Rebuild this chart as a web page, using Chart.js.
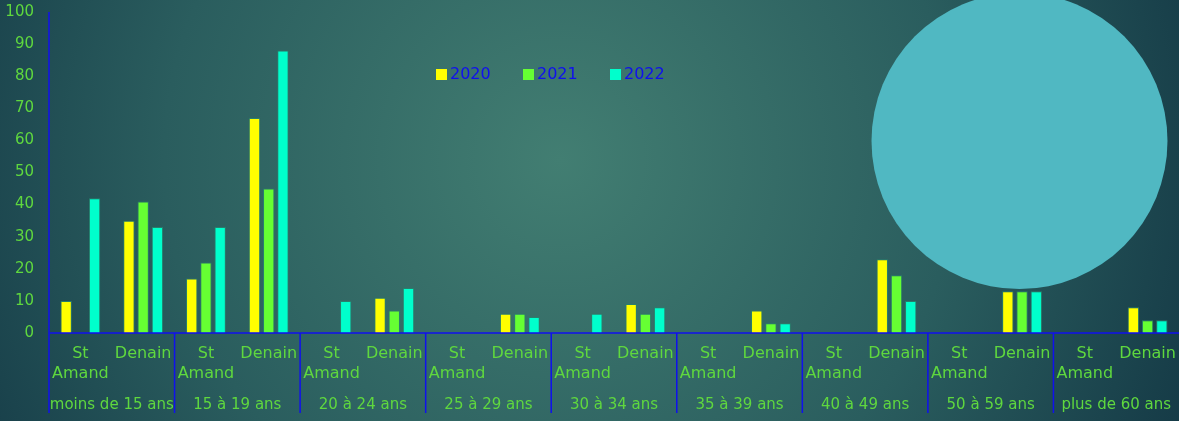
<!DOCTYPE html>
<html>
<head>
<meta charset="utf-8">
<style>
html, body { margin: 0; padding: 0; background: #1a4450; }
#wrap { width: 1179px; height: 421px; position: relative; }
</style>
</head>
<body>
<div id="wrap"><canvas id="ageChart"></canvas></div>
<script src="https://cdn.jsdelivr.net/npm/chart.js"></script>
<script>
// age groups, each split into two towns
const groups = ['moins de 15 ans', '15 à 19 ans', '20 à 24 ans', '25 à 29 ans', '30 à 34 ans',
                '35 à 39 ans', '40 à 49 ans', '50 à 59 ans', 'plus de 60 ans'];
const towns = [['St', 'Amand'], 'Denain'];
const years = ['2020', '2021', '2022'];

// values in order: St Amand, Denain for each age group (null = no value)
const v2020 = [10, 35, 17, 67, null, 11, null, 6, null, 9, null, 7, null, 23, null, 13, null, 8];
const v2021 = [null, 41, 22, 45, null, 7, null, 6, null, 6, null, 3, null, 18, null, 13, null, 4];
const v2022 = [42, 33, 33, 88, 10, 14, null, 5, 6, 8, null, 3, null, 10, null, 13, null, 4];

const yTicks = [0, 10, 20, 30, 40, 50, 60, 70, 80, 90, 100];

const colors = ['#ffff00', '#66ff33', '#00ffcc'];
const green = '#5fd83e';
const blue = '#1010ee';

const labels = [];
groups.forEach(() => towns.forEach(t => labels.push(t)));

// background + decorative circle
const backdrop = {
    id: 'backdrop',
    beforeDraw(chart) {
        const c = chart.ctx;
        const g = c.createRadialGradient(560, 160, 0, 560, 160, 720);
        g.addColorStop(0, '#427e72');
        g.addColorStop(0.55, '#2a5d5e');
        g.addColorStop(1, '#123543');
        c.save();
        c.fillStyle = g;
        c.fillRect(0, 0, chart.width, chart.height);
        c.fillStyle = '#50b8c2';
        c.beginPath();
        c.arc(1019.5, 141, 148, 0, Math.PI * 2);
        c.fill();
        c.restore();
    }
};

// group labels, separators, axis lines and legend
const decor = {
    id: 'decor',
    afterDraw(chart) {
        const c = chart.ctx;
        const x = chart.scales.x;
        const area = chart.chartArea;
        c.save();
        c.strokeStyle = blue;
        c.lineWidth = 1.5;
        c.beginPath();
        c.moveTo(area.left, area.top);
        c.lineTo(area.left, chart.height - 8);
        c.moveTo(area.left, area.bottom);
        c.lineTo(area.right, area.bottom);
        for (let i = 1; i < groups.length; i++) {
            const bx = (x.getPixelForValue(2 * i - 1) + x.getPixelForValue(2 * i)) / 2;
            c.moveTo(bx, area.bottom);
            c.lineTo(bx, chart.height - 8);
        }
        c.stroke();

        c.fillStyle = green;
        c.font = '15px "DejaVu Sans"';
        c.textAlign = 'center';
        c.textBaseline = 'middle';
        groups.forEach((gname, i) => {
            const cx = (x.getPixelForValue(2 * i) + x.getPixelForValue(2 * i + 1)) / 2;
            c.fillText(gname, cx, 405);
        });

        // legend
        c.font = '16px "DejaVu Sans"';
        c.textAlign = 'left';
        years.forEach((y, i) => {
            const lx = 436 + i * 87;
            c.fillStyle = colors[i];
            c.fillRect(lx, 69, 11, 11);
            c.fillStyle = blue;
            c.fillText(y, lx + 14, 75);
        });
        c.restore();
    }
};

const ctx = document.getElementById('ageChart').getContext('2d');
new Chart(ctx, {
    type: 'bar',
    data: {
        labels: labels,
        datasets: [v2020, v2021, v2022].map((d, i) => ({
            label: years[i],
            data: d,
            backgroundColor: colors[i],
            borderColor: 'rgba(40, 130, 110, 0.9)',
            borderWidth: 1,
            categoryPercentage: 0.68,
            barPercentage: 0.8
        }))
    },
    options: {
        animation: false,
        responsive: true,
        maintainAspectRatio: false,
        layout: { padding: { top: 12, right: 0, bottom: 0, left: 0 } },
        plugins: {
            legend: { display: false },
            tooltip: { enabled: false }
        },
        scales: {
            x: {
                grid: { display: false, drawTicks: false },
                border: { display: false },
                ticks: {
                    color: green,
                    font: { family: 'DejaVu Sans', size: 16, lineHeight: 1.25 },
                    padding: 11,
                    maxRotation: 0,
                    autoSkip: false
                },
                afterFit(s) {
                    s.height = 88;
                    s.paddingLeft = 0; s.paddingRight = 0; s.paddingTop = 0; s.paddingBottom = 0;
                }
            },
            y: {
                min: 0,
                max: 100,
                grid: { display: false, drawTicks: false },
                border: { display: false },
                afterBuildTicks(s) { s.ticks = yTicks.map(v => ({ value: v })); },
                ticks: {
                    color: green,
                    font: { family: 'DejaVu Sans', size: 15 },
                    padding: 15
                },
                afterFit(s) {
                    s.width = 49;
                    s.paddingLeft = 0; s.paddingRight = 0; s.paddingTop = 0; s.paddingBottom = 0;
                }
            }
        }
    },
    plugins: [backdrop, decor]
});
</script>
</body>
</html>
